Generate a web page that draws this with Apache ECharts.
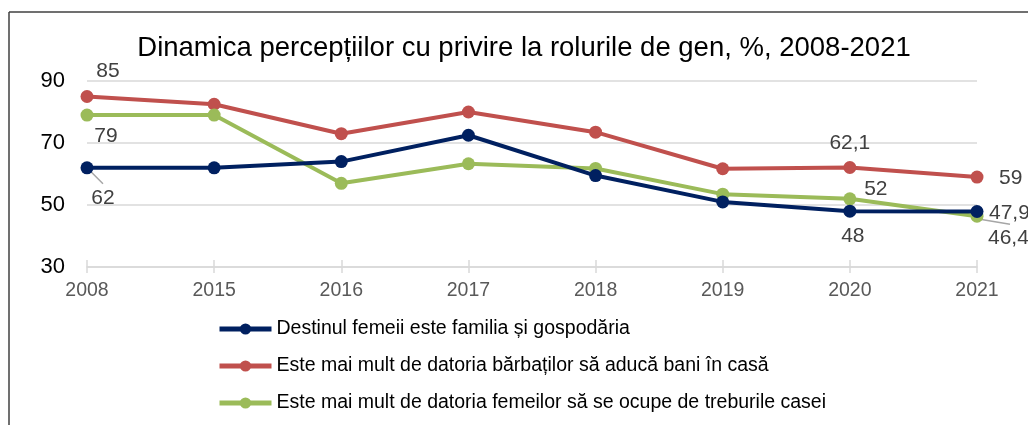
<!DOCTYPE html>
<html>
<head>
<meta charset="utf-8">
<script src="https://cdn.jsdelivr.net/npm/echarts@6/dist/echarts.min.js"></script>
<style>html,body{margin:0;padding:0;background:#fff;}#c{width:1028px;height:425px;}</style>
</head>
<body>
<div id="c"></div>
<script>
var years = ['2008','2015','2016','2017','2018','2019','2020','2021'];
var seriesNames = [
  'Destinul femeii este familia și gospodăria',
  'Este mai mult de datoria bărbaților să aducă bani în casă',
  'Este mai mult de datoria femeilor să se ocupe de treburile casei'
];
var destinul = [62, 62, 64, 72.5, 59.5, 51, 48, 47.9];
var barbati = [85, 82.5, 73, 80, 73.5, 61.7, 62.1, 59];
var femei = [79, 79, 57, 63.3, 61.8, 53.5, 52, 46.4];
var yTicks = [30, 50, 70, 90];
var titleText = 'Dinamica percepțiilor cu privire la rolurile de gen, %, 2008-2021';

var colors = ['#002060', '#C0504D', '#9BBB59'];
// labelled points: index -> [dx, dy, align, leader]
var labelSpec = [
  {0: [16, 30, 'center', true], 6: [3, 25, 'center'], 7: [12, 2, 'left']},
  {0: [21, -25, 'center'], 6: [0, -24, 'center'], 7: [22, 1, 'left']},
  {0: [19, 21, 'center'], 6: [26, -10, 'center'], 7: [11, 22, 'left', true]}
];
function fmt(v){ return String(v).replace('.', ','); }
function buildData(vals, si){
  return vals.map(function(v, i){
    var s = labelSpec[si][i];
    if (!s) return v;
    return {
      value: v,
      label: {show: true, position: 'inside', offset: [s[0], s[1]], align: s[2], verticalAlign: 'middle',
        formatter: fmt(v), fontSize: 21, color: '#404040', fontFamily: 'Liberation Sans'}
    };
  });
}
var allVals = [destinul, barbati, femei];
var series = allVals.map(function(vals, si){
  return {
    name: seriesNames[si], type: 'line', data: buildData(vals, si),
    symbol: 'circle', symbolSize: 13,
    lineStyle: {width: 4, color: colors[si]},
    itemStyle: {color: colors[si]},
    label: {show: false},
    z: 3 + (si === 0 ? 2 : si === 2 ? 1 : 0),
    animation: false
  };
});

var frame = [
  {type: 'line', shape: {x1: 9, y1: 12, x2: 1028, y2: 12}, style: {stroke: '#404040', lineWidth: 1.5}},
  {type: 'line', shape: {x1: 9, y1: 12, x2: 9, y2: 425}, style: {stroke: '#404040', lineWidth: 1.5}}
];

var chart = echarts.init(document.getElementById('c'));
chart.setOption({
  animation: false,
  textStyle: {fontFamily: 'Liberation Sans'},
  title: {text: titleText, left: 519, top: 29, textAlign: 'center',
    textStyle: {fontSize: 27.5, fontWeight: 'normal', color: '#000', fontFamily: 'Liberation Sans'}},
  grid: {left: 87, right: 51, top: 81, bottom: 158, containLabel: false},
  legend: {
    orient: 'vertical', left: 217, top: 319, padding: 0, itemWidth: 52, itemHeight: 14, itemGap: 17,
    lineStyle: {width: 5},
    textStyle: {fontSize: 19.5, color: '#000', fontFamily: 'Liberation Sans'},
    data: seriesNames
  },
  xAxis: [{
    type: 'category', data: years, boundaryGap: false,
    axisLine: {lineStyle: {color: '#d9d9d9', width: 1.5}},
    axisTick: {show: true, length: 6, lineStyle: {color: '#d9d9d9', width: 1.5}},
    axisLabel: {fontSize: 19.5, color: '#595959', margin: 14, fontFamily: 'Liberation Sans'}
  }, {
    type: 'category', data: years, boundaryGap: false, position: 'bottom',
    axisLine: {show: false},
    axisTick: {show: true, inside: true, length: 7, lineStyle: {color: '#d9d9d9', width: 1.5}},
    axisLabel: {show: false}
  }],
  yAxis: {
    type: 'value', min: yTicks[0], max: yTicks[yTicks.length - 1], interval: 20,
    axisLine: {show: false}, axisTick: {show: false},
    splitLine: {lineStyle: {color: '#d9d9d9', width: 1.5}},
    axisLabel: {fontSize: 22, color: '#000', margin: 22, fontFamily: 'Liberation Sans'}
  },
  graphic: frame,
  series: series
});

// leader lines for labels offset away from their points
var leaders = [];
allVals.forEach(function(vals, si){
  Object.keys(labelSpec[si]).forEach(function(k){
    var s = labelSpec[si][k];
    if (!s[3]) return;
    var i = +k;
    var p = chart.convertToPixel({gridIndex: 0}, [i, vals[i]]);
    var ex = s[2] === 'left' ? p[0] + s[0] + 22 : p[0] + s[0];
    var ey = p[1] + s[1] - 14;
    leaders.push({type: 'line', shape: {x1: p[0] + 3, y1: p[1] + 3, x2: ex, y2: ey},
      style: {stroke: '#a6a6a6', lineWidth: 1.5}, z: 1});
  });
});
chart.setOption({graphic: frame.concat(leaders)});
</script>
</body>
</html>
